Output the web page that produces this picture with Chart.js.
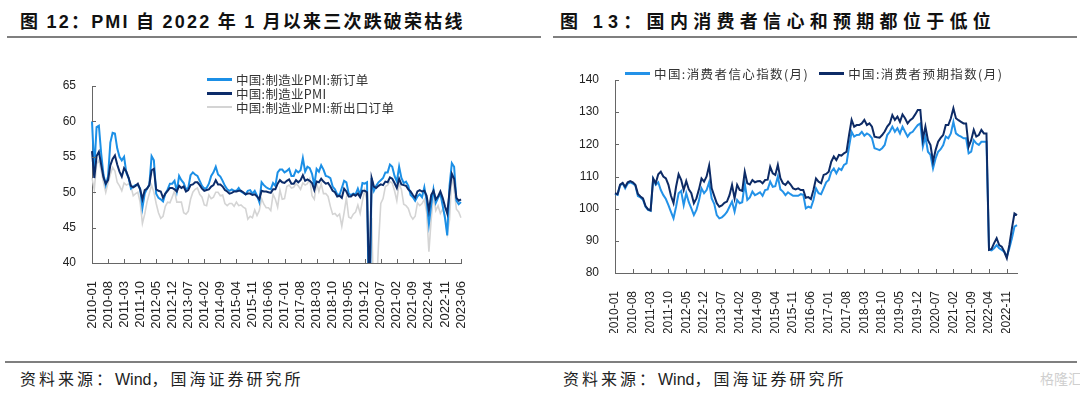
<!DOCTYPE html>
<html>
<head>
<meta charset="utf-8">
<script src="https://cdn.jsdelivr.net/npm/chart.js@4.4.1/dist/chart.umd.min.js"></script>
<style>
  html, body { margin: 0; padding: 0; background: #fff; }
  #page { position: relative; width: 1080px; height: 397px; overflow: hidden; font-family: "Noto Sans CJK SC", sans-serif; }
  .title { position: absolute; font-size: 18px; font-weight: bold; color: #111; white-space: nowrap; }
  .title .num { font-family: "Liberation Sans", Arial, sans-serif; }
  .rule { position: absolute; height: 2px; background: #7f7f7f; }
  canvas { position: absolute; }
  .legend { position: absolute; color: #333; white-space: nowrap; }
  .legend .item { display: flex; align-items: center; height: 14px; }
  .legend .sw { display: inline-block; width: 25px; margin-right: 4px; }
  .src { position: absolute; font-size: 16px; color: #222; letter-spacing: 3px; white-space: nowrap; }
  .src .num { font-family: "Liberation Sans", Arial, sans-serif; letter-spacing: 0; }
  .mark { position: absolute; left: 1040px; top: 368px; font-size: 14px; color: #cfcfcf; white-space: nowrap; }
</style>
</head>
<body>
<div id="page">
  <div class="title" style="left:20px;top:7px;letter-spacing:2.2px">图 <span class="num">12</span>：<span class="num">PMI</span> 自 <span class="num">2022</span> 年 <span class="num">1</span> 月以来三次跌破荣枯线</div>
  <div class="rule" style="left:7px;top:36px;width:534px"></div>
  <div class="title" style="left:560px;top:7px;letter-spacing:5.3px">图 <span class="num">13</span>：国内消费者信心和预期都位于低位</div>
  <div class="rule" style="left:553px;top:36px;width:524px"></div>

  <canvas id="pmiChart" width="540" height="300" style="left:0;top:40px"></canvas>
  <canvas id="confChart" width="540" height="300" style="left:540px;top:40px"></canvas>
  <div id="pmiLegend" class="legend" style="left:207px;top:72px;font-size:12.5px;letter-spacing:0.3px"></div>
  <div id="confLegend" class="legend" style="left:625px;top:66px;display:flex;font-size:12.5px;letter-spacing:1.4px"></div>

  <div class="rule" style="left:5px;top:361px;width:1072px"></div>
  <div class="src" style="left:20px;top:366px">资料来源：<span class="num">Wind</span>，国海证券研究所</div>
  <div class="src" style="left:563px;top:366px">资料来源：<span class="num">Wind</span>，国海证券研究所</div>
  <div class="mark">格隆汇</div>
</div>

<script>
// 左图：PMI（2010-01 至 2023-06，月度）
const pmiStart = 2010;
const pmiNewOrders = [
  60.0, 53.3, 59.2, 59.4, 55.5, 52.5, 51.0, 52.2, 57.0, 58.4, 58.3, 56.2,
  55.0, 54.5, 55.0, 52.7, 52.0, 50.5, 50.8, 51.0, 51.0, 50.5, 47.8, 49.8,
  50.5, 51.0, 55.1, 54.5, 49.8, 49.2, 49.0, 48.7, 49.8, 50.4, 51.2, 51.2,
  51.6, 50.1, 52.3, 51.7, 51.3, 50.4, 50.6, 52.4, 52.8, 52.5, 52.3, 51.6,
  50.9, 50.5, 50.6, 51.2, 52.3, 52.8, 53.6, 52.5, 52.2, 51.6, 50.9, 50.4,
  50.2, 50.4, 50.2, 50.2, 50.6, 50.1, 49.9, 49.7, 50.2, 50.3, 49.8, 50.2,
  49.5, 48.6, 51.4, 51.0, 50.7, 50.5, 50.4, 51.3, 50.9, 52.8, 53.2, 53.2,
  52.8, 53.0, 53.3, 52.3, 52.3, 53.1, 52.8, 53.1, 54.8, 52.9, 53.6, 53.4,
  52.6, 51.0, 53.3, 52.9, 53.8, 53.2, 52.3, 52.2, 52.0, 50.8, 50.4, 49.7,
  49.6, 50.6, 51.6, 51.4, 49.8, 49.6, 49.8, 49.7, 50.5, 49.6, 51.3, 51.2,
  51.4, 29.3, 52.0, 50.2, 50.9, 51.4, 51.7, 52.0, 52.8, 52.8, 53.9, 53.6,
  52.3, 51.5, 53.6, 52.0, 51.3, 51.5, 50.9, 49.6, 49.3, 48.8, 49.4, 49.7,
  49.3, 50.7, 48.8, 45.5, 48.2, 50.4, 48.5, 49.2, 49.8, 48.1, 46.4, 43.9,
  50.9, 54.1, 53.6, 48.8, 48.3, 48.6
];
const pmiHeadline = [
  55.8, 52.0, 55.1, 55.7, 53.9, 52.1, 51.2, 51.7, 53.8, 54.7, 55.2, 53.9,
  52.9, 52.2, 53.4, 52.9, 52.0, 50.9, 50.7, 50.9, 51.2, 50.4, 49.0, 50.3,
  50.5, 51.0, 53.1, 53.3, 50.4, 50.2, 50.1, 49.2, 49.8, 50.2, 50.6, 50.6,
  50.4, 50.1, 50.9, 50.6, 50.8, 50.1, 50.3, 51.0, 51.1, 51.4, 51.4, 51.0,
  50.5, 50.2, 50.3, 50.4, 50.8, 51.0, 51.7, 51.1, 51.1, 50.8, 50.3, 50.1,
  49.8, 49.9, 50.1, 50.1, 50.2, 50.2, 50.0, 49.7, 49.8, 49.8, 49.6, 49.7,
  49.4, 49.0, 50.2, 50.1, 50.1, 50.0, 49.9, 50.4, 50.4, 51.2, 51.7, 51.4,
  51.3, 51.6, 51.8, 51.2, 51.2, 51.7, 51.4, 51.7, 52.4, 51.6, 51.8, 51.6,
  51.3, 50.3, 51.5, 51.4, 51.9, 51.5, 51.2, 51.3, 50.8, 50.2, 50.0, 49.4,
  49.5, 49.2, 50.5, 50.1, 49.4, 49.4, 49.7, 49.5, 49.8, 49.3, 50.2, 50.2,
  50.0, 35.7, 52.0, 50.8, 50.6, 50.9, 51.1, 51.0, 51.5, 51.4, 52.1, 51.9,
  51.3, 50.6, 51.9, 51.1, 51.0, 50.9, 50.4, 50.1, 49.6, 49.2, 50.1, 50.3,
  50.1, 50.2, 49.5, 47.4, 49.6, 50.2, 49.0, 49.4, 50.1, 49.2, 48.0, 47.0,
  50.1, 52.6, 51.9, 49.2, 48.8, 49.0
];
const pmiExportOrders = [
  52.0, 50.4, 54.0, 54.5, 53.1, 51.4, 50.0, 51.3, 52.5, 53.5, 53.0, 51.4,
  50.9, 50.2, 51.3, 51.0, 51.2, 50.8, 49.5, 49.8, 50.0, 48.6, 45.6, 46.9,
  48.6, 49.8, 51.0, 50.0, 48.4, 47.1, 46.3, 46.6, 48.0, 48.6, 48.5, 49.3,
  50.2, 48.6, 48.6, 48.6, 47.1, 46.9, 47.3, 49.0, 50.0, 50.4, 50.6, 49.7,
  49.3, 48.2, 48.1, 49.6, 49.1, 49.3, 50.0, 50.0, 49.5, 49.6, 48.4, 48.1,
  48.4, 48.4, 48.0, 48.6, 48.1, 48.2, 47.9, 47.7, 46.2, 46.6, 46.4, 47.5,
  46.7, 47.4, 49.1, 48.3, 47.8, 47.8, 47.4, 49.7, 49.0, 47.9, 50.3, 49.0,
  49.1, 50.8, 51.0, 50.6, 50.7, 51.2, 50.9, 50.4, 51.3, 51.0, 51.2, 51.9,
  49.5, 49.0, 51.3, 50.1, 51.2, 49.8, 49.8, 49.4, 48.0, 46.9, 47.0, 46.6,
  46.9, 45.2, 47.1, 49.2, 46.5, 46.3, 46.9, 47.2, 48.2, 47.0, 48.8, 50.3,
  48.7, 28.7, 46.4, 33.5, 35.3, 42.6, 48.4, 49.1, 50.8, 51.0, 51.5, 51.3,
  50.2, 48.8, 51.2, 50.4, 48.3, 48.1, 47.7, 46.7, 46.2, 46.6, 48.5, 48.1,
  48.4, 49.0, 47.2, 41.6, 46.2, 49.5, 47.4, 48.1, 47.0, 47.6, 46.7, 44.2,
  46.1, 52.4, 50.4, 47.6, 47.2, 46.4
];
const pmiTicks = ['2010-01','2010-08','2011-03','2011-10','2012-05','2012-12','2013-07','2014-02',
  '2014-09','2015-04','2015-11','2016-06','2017-01','2017-08','2018-03','2018-10','2019-05',
  '2019-12','2020-07','2021-02','2021-09','2022-04','2022-11','2023-06'];

// 右图：消费者信心 / 预期（2010-01 至 2023-03，月度）
const confStart = 2010;
const confConfidence = [
  104.6, 104.3, 107.2, 107.9, 106.3, 107.8, 108.2, 107.8, 107.2, 103.9, 103.5, 102.8,
  100.6, 99.6, 99.3, 109.2, 107.4, 108.2, 105.8, 104.2, 103.0, 101.1, 99.0, 97.0,
  100.6, 104.8, 105.5, 101.1, 104.8, 102.0, 100.1, 98.0, 99.6, 102.5, 106.3, 104.8,
  105.8, 108.2, 103.2, 101.5, 98.0, 97.0, 97.3, 98.0, 99.0, 100.6, 102.2, 99.1,
  102.7, 101.7, 102.0, 107.9, 102.7, 103.5, 105.3, 104.2, 104.6, 105.1, 104.0, 105.8,
  106.0, 108.4, 106.8, 107.0, 110.0, 106.0, 105.3, 104.2, 105.1, 104.5, 104.0, 104.0,
  104.0, 104.5, 104.3, 100.1, 100.6, 100.3, 102.7, 106.3, 104.8, 104.5, 106.3, 108.2,
  108.9, 111.5, 112.5, 111.0, 112.5, 112.0, 113.6, 114.1, 119.3, 123.9, 122.4, 122.9,
  123.0, 123.9, 122.7, 123.4, 122.9, 121.9, 118.8, 118.5, 118.2, 118.8, 119.8, 122.9,
  123.9, 125.5, 123.9, 125.0, 123.4, 125.5, 123.9, 122.4, 123.5, 123.9, 125.0, 126.0,
  126.5, 119.3, 122.4, 117.7, 116.7, 112.5, 115.6, 117.7, 118.5, 119.8, 122.4, 121.9,
  123.4, 127.0, 123.4, 122.8, 122.4, 121.9, 121.9, 117.2, 117.7, 121.3, 120.3, 119.8,
  120.8, 120.8, 120.8, 87.2, 87.0, 87.7, 88.7, 87.7, 87.2, 86.6, 85.1, 87.7,
  90.8, 94.4, 94.9
];
const confExpectation = [
  104.8, 104.5, 107.5, 108.0, 106.8, 108.2, 108.6, 108.2, 107.4, 104.6, 103.8, 103.2,
  100.8, 99.8, 99.5, 109.4, 107.9, 110.7, 111.5, 110.0, 109.4, 107.4, 104.0, 101.7,
  106.8, 110.7, 109.0, 105.8, 108.6, 106.0, 104.8, 101.7, 103.2, 106.0, 109.4, 108.4,
  110.0, 113.4, 106.3, 104.0, 101.7, 100.6, 101.0, 101.8, 102.2, 104.2, 107.4, 103.2,
  107.4, 105.8, 105.5, 111.5, 107.9, 107.5, 108.9, 108.2, 108.5, 108.6, 107.9, 108.9,
  109.0, 113.0, 111.0, 110.5, 113.6, 109.5, 107.9, 107.4, 108.4, 107.5, 106.3, 106.0,
  106.3, 105.8, 105.8, 103.4, 103.6, 103.0, 105.8, 109.4, 108.4, 107.9, 110.5, 110.8,
  111.5, 114.6, 116.2, 115.1, 116.7, 116.5, 117.2, 117.7, 122.9, 127.6, 125.5, 126.0,
  126.0, 126.5, 127.6, 126.0, 126.5, 125.5, 122.4, 122.2, 122.1, 122.9, 124.0, 125.5,
  126.5, 129.1, 127.6, 128.6, 127.0, 129.3, 128.1, 126.5, 127.5, 128.1, 129.3, 130.7,
  130.7, 121.5, 125.5, 121.3, 119.8, 114.6, 118.2, 120.8, 122.0, 122.9, 126.0, 126.0,
  128.1, 131.2, 128.1, 127.5, 127.0, 126.5, 126.5, 119.3, 121.3, 124.5, 122.4, 122.9,
  124.5, 123.4, 123.4, 87.2, 87.5, 89.3, 90.8, 88.7, 88.2, 86.6, 84.6, 88.7,
  93.9, 98.5, 98.0
];
const confTicks = ['2010-01','2010-08','2011-03','2011-10','2012-05','2012-12','2013-07','2014-02',
  '2014-09','2015-04','2015-11','2016-06','2017-01','2017-08','2018-03','2018-10','2019-05',
  '2019-12','2020-07','2021-02','2021-09','2022-04','2022-11'];

// 月份标签
function months(startYear, n) {
  const out = [];
  for (let i = 0; i < n; i++) {
    const y = startYear + Math.floor(i / 12);
    const m = (i % 12) + 1;
    out.push(y + '-' + (m < 10 ? '0' + m : m));
  }
  return out;
}

const axisColor = '#666';

// 刻度线画在坐标轴内侧
const innerTicks = {
  id: 'innerTicks',
  afterDraw(chart) {
    const { ctx, chartArea: a, scales: { x, y } } = chart;
    ctx.save();
    ctx.strokeStyle = axisColor;
    ctx.lineWidth = 1;
    ctx.beginPath();
    x.ticks.forEach((t, i) => {
      if (t.label == null || t.label === '') return;
      const px = Math.round(x.getPixelForTick(i)) + 0.5;
      ctx.moveTo(px, a.bottom);
      ctx.lineTo(px, a.bottom - 4);
    });
    y.ticks.forEach((t, i) => {
      const py = Math.round(y.getPixelForTick(i)) + 0.5;
      ctx.moveTo(a.left, py);
      ctx.lineTo(a.left + 4, py);
    });
    ctx.stroke();
    ctx.restore();
  }
};

function lineChart(id, labels, datasets, o) {
  return new Chart(document.getElementById(id), {
    type: 'line',
    data: { labels, datasets },
    options: {
      responsive: false,
      animation: false,
      devicePixelRatio: 1,
      layout: { padding: o.padding },
      plugins: { legend: { display: false }, tooltip: { enabled: false } },
      elements: { point: { radius: 0 }, line: { tension: 0 } },
      scales: {
        x: {
          offset: false,
          grid: { display: false },
          border: { display: true, color: axisColor, width: 1 },
          ticks: {
            autoSkip: false, minRotation: 90, maxRotation: 90, padding: 10,
            color: '#222', font: { family: 'Liberation Sans', size: o.xFont },
            callback(v) {
              const l = this.getLabelForValue(v);
              return o.ticks.includes(l) ? l : null;
            }
          },
          afterFit(s) { s.height = o.xHeight; }
        },
        y: {
          min: o.min, max: o.max,
          grid: { display: false },
          border: { display: true, color: axisColor, width: 1 },
          ticks: { stepSize: o.step, padding: 8, color: '#222', font: { family: 'Liberation Sans', size: 12 } },
          afterFit(s) { s.width = 40; }
        }
      }
    },
    plugins: [innerTicks]
  });
}

const pmiChart = lineChart('pmiChart', months(pmiStart, pmiHeadline.length), [
  { label: '中国:制造业PMI:新订单', data: pmiNewOrders, borderColor: '#1b8fe6', borderWidth: 2, order: 1 },
  { label: '中国:制造业PMI', data: pmiHeadline, borderColor: '#0c2c6a', borderWidth: 2, order: 0 },
  { label: '中国:制造业PMI:新出口订单', data: pmiExportOrders, borderColor: '#d4d4d4', borderWidth: 1.6, order: 2 }
], { padding: { left: 52, right: 79, top: 46, bottom: 9 }, min: 40, max: 65, step: 5, xFont: 13, xHeight: 68, ticks: pmiTicks });

const confChart = lineChart('confChart', months(confStart, confExpectation.length), [
  { label: '中国:消费者信心指数(月)', data: confConfidence, borderColor: '#2392e8', borderWidth: 2, order: 1 },
  { label: '中国:消费者预期指数(月)', data: confExpectation, borderColor: '#0d2b66', borderWidth: 2, order: 0 }
], { padding: { left: 35, right: 63, top: 40, bottom: 7 }, min: 80, max: 140, step: 10, xFont: 12, xHeight: 60, ticks: confTicks });

// 图例
function legend(boxId, chart, gap) {
  const box = document.getElementById(boxId);
  chart.data.datasets.forEach(ds => {
    const item = document.createElement('div');
    item.className = 'item';
    if (gap) item.style.marginRight = gap + 'px';
    const sw = document.createElement('span');
    sw.className = 'sw';
    sw.style.height = ds.borderWidth + 1 + 'px';
    sw.style.background = ds.borderColor;
    item.appendChild(sw);
    item.appendChild(document.createTextNode(ds.label));
    box.appendChild(item);
  });
}
legend('pmiLegend', pmiChart, 0);
legend('confLegend', confChart, 10);
</script>
</body>
</html>
